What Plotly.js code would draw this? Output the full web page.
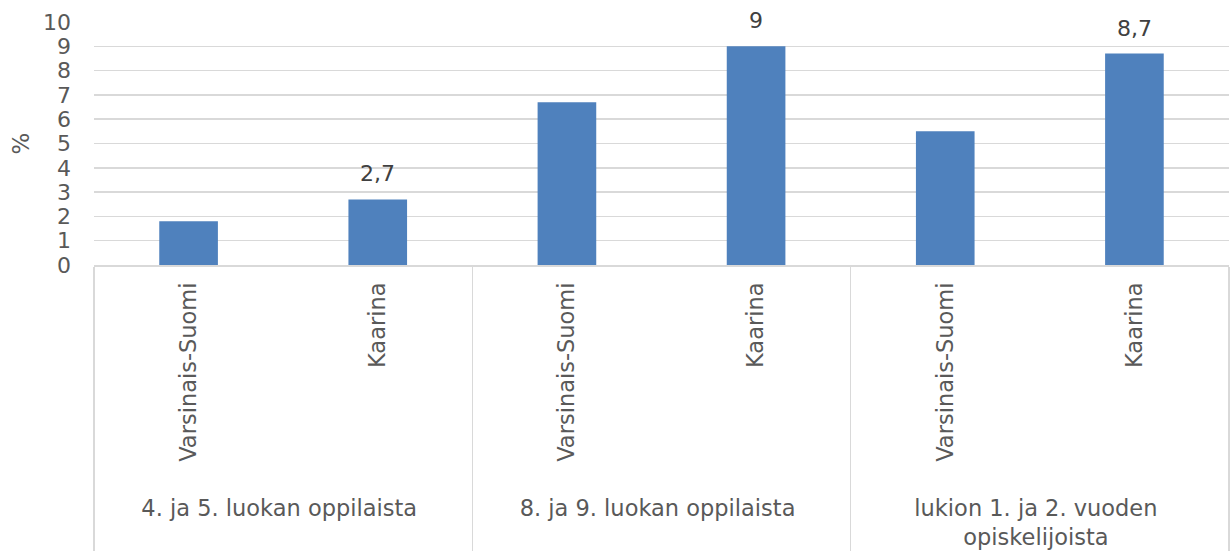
<!DOCTYPE html>
<html>
<head>
<meta charset="utf-8">
<script src="https://cdn.plot.ly/plotly-3.0.1.min.js"></script>
<style>
  html, body { margin: 0; padding: 0; background: #fff; }
  #chart { width: 1230px; height: 553px; }
</style>
</head>
<body>
<div id="chart"></div>
<script>
let groups = ["4. ja 5. luokan oppilaista", "4. ja 5. luokan oppilaista",
              "8. ja 9. luokan oppilaista", "8. ja 9. luokan oppilaista",
              "lukion 1. ja 2. vuoden<br>opiskelijoista", "lukion 1. ja 2. vuoden<br>opiskelijoista"];
let regions = ["Varsinais-Suomi", "Kaarina", "Varsinais-Suomi", "Kaarina", "Varsinais-Suomi", "Kaarina"];
let values = [1.8, 2.7, 6.7, 9, 5.5, 8.7];
let labelled = ["Kaarina"];

let fontFam = "DejaVu Sans, sans-serif";

// a little non-breaking padding at the start of the rotated labels keeps
// the group row further below them, as in the original
let pad = "\u00a0\u00a0\u2009";

let data = [{
  type: "bar",
  x: [groups, regions.map(r => pad + r)],
  y: values,
  marker: {color: "#4f81bd"},
  width: 0.31,
  hoverinfo: "skip"
}];

// value labels only above the Kaarina bars
let annotations = [];
for (let i = 0; i < values.length; i++) {
  if (labelled.indexOf(regions[i]) < 0) continue;
  annotations.push({
    x: i, y: values[i], xref: "x", yref: "y",
    text: String(values[i]).replace(".", ","),
    showarrow: false, yanchor: "bottom", yshift: 11,
    font: {family: fontFam, size: 22, color: "#404040"}
  });
}

let layout = {
  width: 1230, height: 553,
  margin: {l: 94, r: 1, t: 22, b: 288},
  paper_bgcolor: "#fff", plot_bgcolor: "#fff",
  showlegend: false,
  font: {family: fontFam, size: 22, color: "#595959"},
  xaxis: {
    type: "multicategory",
    tickangle: -90,
    ticklabelstandoff: 7,
    showgrid: false,
    showline: true, linecolor: "#d9d9d9", linewidth: 1.5,
    showdividers: true, dividercolor: "#d9d9d9", dividerwidth: 1.5,
    tickfont: {family: fontFam, size: 22.5, color: "#595959"}
  },
  yaxis: {
    range: [0, 10], dtick: 1,
    showgrid: true, gridcolor: "#d9d9d9", gridwidth: 1.5,
    zeroline: false, showline: false,
    ticks: "", ticklabelstandoff: 22,
    tickfont: {family: fontFam, size: 22, color: "#595959"},
    title: {text: "%", font: {family: fontFam, size: 23, color: "#595959"}, standoff: 6}
  },
  annotations: annotations
};

Plotly.newPlot("chart", data, layout, {staticPlot: true});
</script>
</body>
</html>
